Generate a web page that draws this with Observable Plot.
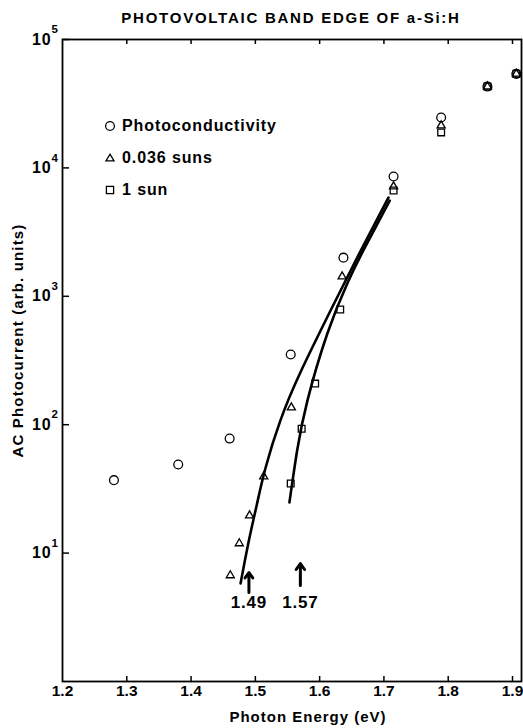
<!DOCTYPE html>
<html><head><meta charset="utf-8">
<script src="https://cdn.jsdelivr.net/npm/d3@7"></script>
<script src="https://cdn.jsdelivr.net/npm/@observablehq/plot@0.6"></script>
<style>
body{margin:0;background:#fff;font-family:"Liberation Sans",Arial,sans-serif;font-weight:bold;color:#000}
#wrap{position:relative;width:523px;height:728px;overflow:hidden}
#title{position:absolute;left:291px;top:10px;transform:translateX(-50%);white-space:nowrap;font-size:15px;line-height:15px;letter-spacing:1.75px}
#chart{position:absolute;left:0;top:28px}
#chart svg text{letter-spacing:0.8px}
.leg{position:absolute;left:104px;height:20px;line-height:20px;font-size:16px;letter-spacing:0.9px;white-space:nowrap}
.leg svg{position:absolute;left:0;top:4px}
.leg span{position:absolute;left:18px;top:0}
</style></head><body>
<div id="wrap">
<div id="title">PHOTOVOLTAIC BAND EDGE OF a-Si:H</div>
<div id="chart"></div>
<div id="legend"></div>
</div>
<script>
// Photoconductivity (circles)
const photoE = [1.28, 1.38, 1.46, 1.555, 1.637, 1.715, 1.789, 1.861, 1.906];
const photoV = [37, 49, 78, 352, 2000, 8570, 24700, 43000, 54000];
// 0.036 suns (triangles)
const lowE = [1.461, 1.475, 1.491, 1.513, 1.556, 1.635, 1.715, 1.789, 1.861, 1.906];
const lowV = [6.7, 11.9, 19.6, 39.5, 136, 1426, 7160, 21400, 43000, 54000];
// 1 sun (squares)
const sunE = [1.555, 1.572, 1.593, 1.632, 1.715, 1.789, 1.861, 1.906];
const sunV = [34.8, 93, 209, 789, 6670, 18900, 43000, 54000];
// fitted curves
const fitLowE = [1.477, 1.489, 1.502, 1.516, 1.539, 1.570, 1.617, 1.664, 1.707];
const fitLowV = [5.8, 11.9, 23.5, 46.4, 108, 255, 775, 2275, 5880];
const fitSunE = [1.553, 1.565, 1.581, 1.612, 1.643, 1.668, 1.709];
const fitSunV = [24.8, 63, 154, 513, 1259, 2275, 5570];
// band edge arrows
const edgeE = [1.49, 1.57];
const edgeLabels = ["1.49", "1.57"];
const arrowBase = [4.93, 5.59];
const arrowTip = [7.06, 8.30];
const edgeLabelV = [4.12, 4.12];
// axes
const xTicks = [1.2, 1.3, 1.4, 1.5, 1.6, 1.7, 1.8, 1.9];
const yTicks = [10, 100, 1000, 10000, 100000];
const yExp = ["1", "2", "3", "4", "5"];
const xLabel = "Photon Energy (eV)";
const yLabel = "AC Photocurrent (arb. units)";
const legendLabels = ["Photoconductivity", "0.036 suns", "1 sun"];
const legendSymbols = ["circle", "triangle", "square"];

const toRows = (xs, ys) => xs.map((x, i) => ({x, y: ys[i]}));
const photo = toRows(photoE, photoV);
const low = toRows(lowE, lowV);
const sun = toRows(sunE, sunV);
const fitLow = toRows(fitLowE, fitLowV);
const fitSun = toRows(fitSunE, fitSunV);
const edges = edgeE.map((x, i) => ({x, y1: arrowBase[i], y2: arrowTip[i], ly: edgeLabelV[i], label: edgeLabels[i]}));

const W = 523, H = 700, mT = 11, mB = 47, mL = 62, mR = 2;
const plotH = H - mT - mB, plotW = W - mL - mR;

const chart = Plot.plot({
  width: W, height: H,
  marginTop: mT, marginBottom: mB, marginLeft: mL, marginRight: mR,
  style: {fontFamily: '"Liberation Sans", Arial, sans-serif', fontWeight: "bold", color: "#000", background: "#fff", overflow: "visible"},
  x: {domain: [1.2, 1.914]},
  y: {type: "log", domain: [1, 1e5], axis: null},
  marks: [
    Plot.frame({stroke: "#000", strokeWidth: 1.8}),
    Plot.ruleX(xTicks.slice(1), {x: d => d, insetTop: plotH - 5, strokeWidth: 1.5}),
    Plot.ruleX(xTicks.slice(1), {x: d => d, insetBottom: plotH - 5, strokeWidth: 1.5}),
    Plot.ruleY(yTicks, {y: d => d, insetRight: plotW - 7, strokeWidth: 1.5}),
    Plot.axisX({ticks: xTicks, tickSize: 0, tickPadding: 3, tickFormat: d => d.toFixed(1), fontSize: 15.5, fontWeight: "bold", label: null}),
    Plot.text(yTicks, {y: d => d, frameAnchor: "left", text: () => "10", textAnchor: "end", dx: -11, fontSize: 16}),
    Plot.text(yTicks, {y: d => d, frameAnchor: "left", text: (d, i) => yExp[i], textAnchor: "start", dx: -11, dy: -10, fontSize: 11.5}),
    Plot.line(fitLow, {x: "x", y: "y", curve: "natural", strokeWidth: 2.6, stroke: "#000"}),
    Plot.line(fitSun, {x: "x", y: "y", curve: "natural", strokeWidth: 2.6, stroke: "#000"}),
    Plot.dot(photo, {x: "x", y: "y", symbol: "circle", r: 4.4, stroke: "#000", strokeWidth: 1.3, fill: "none"}),
    Plot.dot(low, {x: "x", y: "y", symbol: "triangle", r: 3, stroke: "#000", strokeWidth: 1.3, fill: "none"}),
    Plot.dot(sun, {x: "x", y: "y", symbol: "square", r: 3.8, stroke: "#000", strokeWidth: 1.3, fill: "none"}),
    Plot.arrow(edges, {x1: "x", x2: "x", y1: "y1", y2: "y2", strokeWidth: 3, headLength: 7, headAngle: 70, stroke: "#000"}),
    Plot.text(edges, {x: "x", y: "ly", text: "label", fontSize: 17, lineAnchor: "middle"}),
    Plot.text([xLabel], {frameAnchor: "bottom", textAnchor: "middle", lineAnchor: "middle", dy: 36, dx: 16, fontSize: 15}),
    Plot.text([yLabel], {frameAnchor: "left", textAnchor: "middle", lineAnchor: "middle", rotate: -90, dx: -44, dy: -20, fontSize: 15})
  ]
});
document.getElementById("chart").appendChild(chart);
const sel = d3.select(chart).selectAll("text");
sel.filter(function() { return this.textContent === yLabel; }).style("letter-spacing", "1.15px");
sel.filter(function() { return this.textContent === xLabel; }).style("letter-spacing", "1px");
sel.filter(function() { return /^1\.\d$/.test(this.textContent) && this.closest("[aria-label='x-axis tick label']"); }).style("letter-spacing", "0px");
d3.select(chart).selectAll("[aria-label='x-axis tick label'] text").style("letter-spacing", "0px");

// legend inside the plot area
const legend = document.getElementById("legend");
const rowsTop = [116, 148, 180];
const shapeSvg = {
  circle: '<circle cx="6" cy="6" r="4.4" fill="none" stroke="#000" stroke-width="1.3"/>',
  triangle: '<path d="M6,2.2 L10,8.8 L2,8.8 Z" fill="none" stroke="#000" stroke-width="1.3"/>',
  square: '<rect x="2.4" y="2.4" width="7.2" height="7.2" fill="none" stroke="#000" stroke-width="1.3"/>'
};
legendLabels.forEach((lab, i) => {
  const d = document.createElement("div");
  d.className = "leg";
  d.style.top = rowsTop[i] + "px";
  d.innerHTML = `<svg width="12" height="12">${shapeSvg[legendSymbols[i]]}</svg><span>${lab}</span>`;
  legend.appendChild(d);
});
</script>
</body></html>
